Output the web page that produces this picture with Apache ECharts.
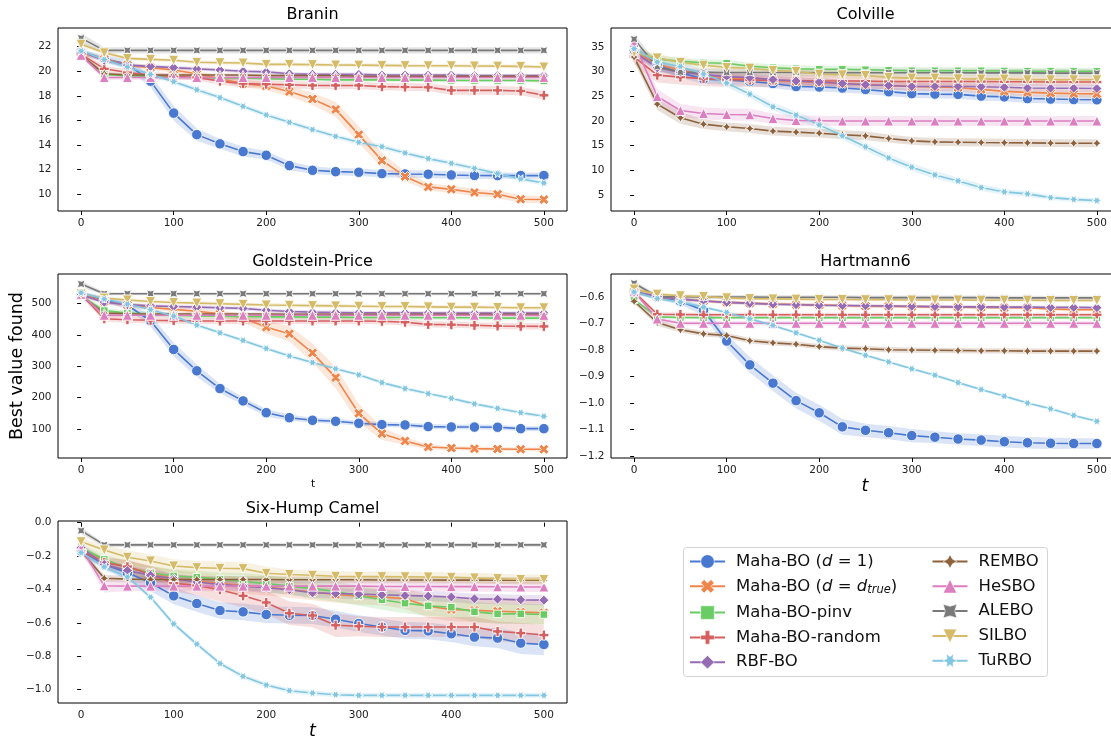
<!DOCTYPE html>
<html><head><meta charset="utf-8">
<script src="https://cdn.jsdelivr.net/npm/echarts@6/dist/echarts.min.js"></script>
<style>html,body{margin:0;padding:0;background:#fff}#c{width:1111px;height:738px}</style>
</head><body><div id="c"></div>
<script>
// ---------------- DATA ----------------
const T = [0,25,50,75,100,125,150,175,200,225,250,275,300,325,350,375,400,425,450,475,500];
const X_TICKS = [0,100,200,300,400,500];
const NAMES = ['Maha-BO (d = 1)','Maha-BO (d = d_true)','Maha-BO-pinv','Maha-BO-random','RBF-BO','REMBO','HeSBO','ALEBO','SILBO','TuRBO'];
const COLORS = ['#4878d0','#ee854a','#6acc64','#d65f5f','#956cb4','#8c613c','#dc7ec0','#797979','#d5bb67','#82c6e2'];

const BRANIN_Y = [10,12,14,16,18,20,22];
const COLVILLE_Y = [5,10,15,20,25,30,35];
const GP_Y = [100,200,300,400,500];
const HART_Y = [-1.2,-1.1,-1.0,-0.9,-0.8,-0.7,-0.6];
const CAMEL_Y = [-1.0,-0.8,-0.6,-0.4,-0.2,0.0];

const braninMean = [
 [21.6,21.0,20.6,19.2,16.6,14.85,14.1,13.47,13.17,12.33,11.95,11.84,11.79,11.68,11.65,11.63,11.57,11.53,11.52,11.52,11.52],
 [21.5,21.0,20.5,20.3,20.1,19.8,19.4,19.0,18.8,18.35,17.75,16.9,14.85,12.75,11.45,10.6,10.4,10.15,10.0,9.6,9.57],
 [21.3,19.75,19.65,19.6,19.55,19.5,19.45,19.45,19.4,19.35,19.35,19.3,19.3,19.3,19.28,19.28,19.26,19.25,19.25,19.25,19.22],
 [21.4,20.2,19.9,19.7,19.6,19.5,19.2,19.0,18.95,18.9,18.85,18.85,18.85,18.75,18.72,18.7,18.45,18.45,18.45,18.4,18.05],
 [21.6,20.9,20.5,20.4,20.3,20.2,20.1,20.0,19.95,19.8,19.75,19.75,19.75,19.7,19.7,19.7,19.7,19.65,19.65,19.65,19.65],
 [21.3,19.8,19.7,19.7,19.7,19.7,19.7,19.7,19.65,19.65,19.65,19.65,19.6,19.6,19.6,19.6,19.6,19.6,19.6,19.6,19.6],
 [21.3,19.5,19.5,19.5,19.5,19.5,19.5,19.5,19.5,19.5,19.5,19.5,19.5,19.5,19.5,19.5,19.5,19.5,19.5,19.5,19.5],
 [22.7,21.7,21.7,21.7,21.7,21.7,21.7,21.7,21.7,21.7,21.7,21.7,21.7,21.7,21.7,21.7,21.7,21.7,21.7,21.7,21.7],
 [22.2,21.5,21.05,20.97,20.9,20.73,20.7,20.67,20.56,20.56,20.54,20.51,20.5,20.48,20.46,20.45,20.45,20.43,20.42,20.4,20.35],
 [21.65,20.95,20.35,19.75,19.16,18.5,17.86,17.15,16.45,15.85,15.26,14.71,14.23,13.87,13.36,12.9,12.52,12.11,11.68,11.25,10.92]
];
const braninBand = [
 [0.2,0.3,0.35,0.5,0.6,0.5,0.4,0.4,0.35,0.35,0.3,0.3,0.3,0.3,0.3,0.3,0.3,0.3,0.25,0.25,0.25],
 [0.2,0.2,0.2,0.2,0.2,0.2,0.25,0.3,0.35,0.4,0.5,0.6,0.7,0.6,0.4,0.3,0.3,0.3,0.3,0.3,0.3],
 [0.2,0.15,0.15,0.15,0.15,0.15,0.15,0.15,0.15,0.15,0.15,0.15,0.15,0.15,0.15,0.15,0.15,0.15,0.15,0.15,0.15],
 [0.2,0.25,0.25,0.25,0.25,0.25,0.3,0.3,0.3,0.3,0.3,0.3,0.3,0.3,0.3,0.3,0.35,0.35,0.35,0.35,0.35],
 [0.2,0.15,0.15,0.15,0.15,0.15,0.15,0.15,0.15,0.15,0.15,0.15,0.15,0.15,0.15,0.15,0.15,0.15,0.15,0.15,0.15],
 [0.2,0.12,0.12,0.12,0.12,0.12,0.12,0.12,0.12,0.12,0.12,0.12,0.12,0.12,0.12,0.12,0.12,0.12,0.12,0.12,0.12],
 [0.2,0.2,0.2,0.2,0.2,0.2,0.2,0.2,0.2,0.2,0.2,0.2,0.2,0.2,0.2,0.2,0.2,0.2,0.2,0.2,0.2],
 [0.4,0.25,0.25,0.25,0.25,0.25,0.25,0.25,0.25,0.25,0.25,0.25,0.25,0.25,0.25,0.25,0.25,0.25,0.25,0.25,0.25],
 [0.2,0.15,0.15,0.15,0.15,0.15,0.15,0.15,0.15,0.15,0.15,0.15,0.15,0.15,0.15,0.15,0.15,0.15,0.15,0.15,0.15],
 [0.2,0.2,0.2,0.2,0.2,0.2,0.2,0.2,0.2,0.2,0.2,0.2,0.2,0.2,0.2,0.2,0.2,0.2,0.2,0.2,0.2]
];

const colvilleMean = [
 [34.4,31.3,29.8,28.5,28.3,28.0,27.6,27.0,26.9,26.7,26.4,25.95,25.55,25.45,25.4,25.05,24.9,24.55,24.45,24.35,24.3],
 [34.2,31.5,30.3,29.3,28.8,28.5,28.2,28.0,27.8,27.6,27.4,27.2,27.0,26.9,26.8,26.4,26.0,25.8,25.65,25.55,25.5],
 [34.0,32.6,32.1,31.8,31.7,31.1,30.8,30.6,30.5,30.5,30.4,30.3,30.2,30.2,30.2,30.2,30.15,30.1,30.1,30.1,30.1],
 [33.0,29.3,28.9,28.6,28.4,28.3,28.2,28.2,28.1,28.1,28.1,28.0,28.0,28.0,28.0,28.0,27.95,27.95,27.9,27.9,27.9],
 [34.0,30.8,29.9,29.4,29.0,28.8,28.4,28.1,27.9,27.6,27.35,27.2,27.0,27.0,27.0,26.95,26.85,26.7,26.65,26.65,26.6],
 [32.97,23.42,20.65,19.36,18.82,18.48,17.94,17.74,17.53,17.2,16.99,16.45,15.97,15.77,15.7,15.64,15.6,15.57,15.52,15.5,15.5],
 [35.9,24.98,22.14,21.53,21.32,21.26,20.5,20.1,20.05,20.0,20.0,20.0,20.0,20.0,20.0,20.0,20.0,20.0,20.0,20.0,20.0],
 [36.6,31.0,29.9,29.9,29.85,29.85,29.85,29.85,29.8,29.8,29.8,29.8,29.8,29.8,29.8,29.75,29.75,29.75,29.7,29.7,29.7],
 [33.9,32.8,31.9,31.3,30.85,30.7,30.25,30.05,29.5,29.37,29.23,28.85,28.7,28.7,28.56,28.5,28.5,28.36,28.36,28.36,28.36],
 [34.66,31.95,31.07,29.52,27.69,25.45,22.88,21.19,19.22,16.99,14.76,12.52,10.63,9.07,7.85,6.5,5.62,5.22,4.47,4.1,3.86]
];
const colvilleBand = [
 [1.0,1.0,1.0,1.0,0.9,0.9,0.9,0.9,0.9,0.9,0.9,0.9,0.9,0.9,0.9,0.9,0.9,0.9,0.9,0.9,0.9],
 [0.8,0.8,0.8,0.8,0.8,0.8,0.8,0.8,0.8,0.8,0.8,0.8,0.8,0.8,0.8,0.8,0.8,0.8,0.8,0.8,0.8],
 [0.7,0.7,0.7,0.7,0.7,0.7,0.7,0.7,0.7,0.7,0.7,0.7,0.7,0.7,0.7,0.7,0.7,0.7,0.7,0.7,0.7],
 [1.5,1.5,1.5,1.5,1.5,1.4,1.3,1.2,1.1,1.0,1.0,1.0,1.0,0.9,0.9,0.9,0.9,0.9,0.9,0.9,0.9],
 [0.8,0.8,0.8,0.8,0.8,0.8,0.8,0.8,0.8,0.8,0.8,0.8,0.8,0.8,0.8,0.8,0.8,0.8,0.8,0.8,0.8],
 [1.0,1.2,1.2,1.0,0.9,0.9,0.9,0.9,0.9,0.9,0.9,0.8,0.8,0.8,0.8,0.8,0.8,0.8,0.8,0.8,0.8],
 [1.0,1.5,1.3,1.2,1.2,1.2,1.0,1.0,1.0,1.0,1.0,1.0,1.0,1.0,1.0,1.0,1.0,1.0,1.0,1.0,1.0],
 [1.0,0.8,0.8,0.8,0.8,0.8,0.8,0.8,0.8,0.8,0.8,0.8,0.8,0.8,0.8,0.8,0.8,0.8,0.8,0.8,0.8],
 [0.8,0.8,0.8,0.8,0.8,0.8,0.8,0.8,0.8,0.8,0.8,0.8,0.8,0.8,0.8,0.8,0.8,0.8,0.8,0.8,0.8],
 [0.8,0.8,0.8,0.8,0.8,0.8,0.8,0.8,0.8,0.8,0.8,0.8,0.8,0.8,0.7,0.7,0.6,0.6,0.5,0.5,0.5]
];

const gpMean = [
 [530,512,495,445.6,354,285.6,229,189.6,152,136,127.7,124.5,118,113.9,112.8,107.5,106.4,106,105.5,101,101],
 [530,507,496,488,482,476,468,455,425,404,343,264,150,85,61.6,42.4,39,37,36,35,35],
 [525,478,470,466,463,461,460,459,458,458,457,457,456,456,456,455,455,455,454,454,454],
 [530,452,449,447,446,445,445,445,445,445,445,445,445,444,441,434,433,431,429,428,427.5],
 [528,505,497,493,491,489,487,485,479,475,473,472,471,471,471,470,470,470,470,470,470],
 [525,470,468,467,467,467,467,467,467,466,466,466,466,466,466,466,466,466,466,466,466],
 [530,463,463,463,463,463,463,463,463,463,463,463,463,463,463,463,463,463,463,463,462.7],
 [563,532,532,532,532,532,532,532,532,532,532,532,532,532,532,532,532,532,532,532,532],
 [532,518,512,507,504,502,500,498,496,495,494,493,492,491,491,490,489,489,488,487,487],
 [535,515,499,481,460.5,431.7,407,382.7,357,333,312,292,272.8,248,229,213,198,180,166,152,140.5]
];
const gpBand = [
 [8,10,12,18,22,20,15,12,12,10,8,8,8,8,8,8,8,8,8,8,8],
 [8,8,8,8,8,8,10,14,20,25,30,35,30,20,12,8,6,6,6,6,6],
 [8,8,8,8,8,8,8,8,8,8,8,8,8,8,8,8,8,8,8,8,8],
 [8,10,10,10,10,10,10,10,10,10,10,10,10,10,10,10,10,10,10,10,10],
 [6,6,6,6,6,6,6,6,6,6,6,6,6,6,6,6,6,6,6,6,6],
 [5,5,5,5,5,5,5,5,5,5,5,5,5,5,5,5,5,5,5,5,5],
 [6,6,6,6,6,6,6,6,6,6,6,6,6,6,6,6,6,6,6,6,6],
 [10,5,5,5,5,5,5,5,5,5,5,5,5,5,5,5,5,5,5,5,5],
 [6,6,6,6,6,6,6,6,6,6,6,6,6,6,6,6,6,6,6,6,6],
 [6,6,6,6,6,6,6,6,6,6,6,6,6,6,6,6,6,6,6,6,6]
];

const hartMean = [
 [-0.58,-0.598,-0.617,-0.65,-0.766,-0.856,-0.925,-0.991,-1.037,-1.09,-1.103,-1.112,-1.123,-1.129,-1.136,-1.14,-1.146,-1.15,-1.152,-1.153,-1.153],
 [-0.58,-0.6,-0.608,-0.615,-0.62,-0.623,-0.626,-0.628,-0.63,-0.632,-0.634,-0.635,-0.636,-0.637,-0.638,-0.639,-0.64,-0.64,-0.645,-0.648,-0.648],
 [-0.61,-0.675,-0.677,-0.678,-0.678,-0.678,-0.678,-0.678,-0.678,-0.678,-0.678,-0.678,-0.678,-0.678,-0.678,-0.678,-0.678,-0.678,-0.678,-0.678,-0.678],
 [-0.58,-0.665,-0.666,-0.667,-0.667,-0.667,-0.667,-0.667,-0.667,-0.667,-0.667,-0.667,-0.667,-0.667,-0.667,-0.667,-0.667,-0.667,-0.667,-0.667,-0.667],
 [-0.58,-0.598,-0.608,-0.615,-0.62,-0.624,-0.627,-0.629,-0.631,-0.632,-0.633,-0.634,-0.635,-0.636,-0.637,-0.637,-0.638,-0.638,-0.639,-0.639,-0.64],
 [-0.616,-0.696,-0.7235,-0.739,-0.745,-0.765,-0.773,-0.778,-0.787,-0.793,-0.795,-0.799,-0.8,-0.801,-0.802,-0.803,-0.803,-0.804,-0.804,-0.804,-0.804],
 [-0.58,-0.683,-0.699,-0.699,-0.699,-0.699,-0.699,-0.699,-0.699,-0.699,-0.699,-0.699,-0.699,-0.699,-0.699,-0.699,-0.699,-0.699,-0.699,-0.699,-0.699],
 [-0.548,-0.598,-0.599,-0.6,-0.6,-0.6,-0.601,-0.601,-0.601,-0.601,-0.602,-0.602,-0.602,-0.602,-0.602,-0.602,-0.603,-0.603,-0.603,-0.603,-0.603],
 [-0.57,-0.589,-0.595,-0.598,-0.603,-0.606,-0.607,-0.608,-0.609,-0.609,-0.61,-0.61,-0.611,-0.611,-0.611,-0.612,-0.612,-0.612,-0.613,-0.613,-0.613],
 [-0.581,-0.606,-0.619,-0.638,-0.658,-0.682,-0.707,-0.735,-0.763,-0.793,-0.82,-0.845,-0.871,-0.895,-0.923,-0.949,-0.974,-1.0,-1.022,-1.047,-1.069]
];
const hartBand = [
 [0.01,0.01,0.012,0.02,0.025,0.03,0.03,0.03,0.03,0.03,0.025,0.025,0.025,0.022,0.022,0.022,0.022,0.022,0.022,0.02,0.02],
 [0.008,0.006,0.006,0.006,0.006,0.006,0.006,0.006,0.006,0.006,0.006,0.006,0.006,0.006,0.006,0.006,0.006,0.006,0.006,0.006,0.006],
 [0.008,0.006,0.006,0.006,0.006,0.006,0.006,0.006,0.006,0.006,0.006,0.006,0.006,0.006,0.006,0.006,0.006,0.006,0.006,0.006,0.006],
 [0.008,0.008,0.008,0.008,0.008,0.008,0.008,0.008,0.008,0.008,0.008,0.008,0.008,0.008,0.008,0.008,0.008,0.008,0.008,0.008,0.008],
 [0.008,0.006,0.006,0.006,0.006,0.006,0.006,0.006,0.006,0.006,0.006,0.006,0.006,0.006,0.006,0.006,0.006,0.006,0.006,0.006,0.006],
 [0.01,0.012,0.01,0.01,0.01,0.01,0.01,0.01,0.01,0.01,0.01,0.01,0.01,0.01,0.01,0.01,0.01,0.01,0.01,0.01,0.01],
 [0.008,0.01,0.008,0.008,0.008,0.008,0.008,0.008,0.008,0.008,0.008,0.008,0.008,0.008,0.008,0.008,0.008,0.008,0.008,0.008,0.008],
 [0.01,0.008,0.008,0.008,0.008,0.008,0.008,0.008,0.008,0.008,0.008,0.008,0.008,0.008,0.008,0.008,0.008,0.008,0.008,0.008,0.008],
 [0.008,0.006,0.006,0.006,0.006,0.006,0.006,0.006,0.006,0.006,0.006,0.006,0.006,0.006,0.006,0.006,0.006,0.006,0.006,0.006,0.006],
 [0.006,0.006,0.006,0.006,0.006,0.006,0.006,0.006,0.006,0.006,0.006,0.006,0.006,0.006,0.006,0.006,0.006,0.006,0.006,0.006,0.006]
];

const camelMean = [
 [-0.17,-0.25,-0.3,-0.36,-0.438,-0.484,-0.526,-0.534,-0.55,-0.554,-0.556,-0.578,-0.604,-0.625,-0.645,-0.648,-0.665,-0.685,-0.691,-0.721,-0.729],
 [-0.15,-0.235,-0.265,-0.3,-0.335,-0.35,-0.365,-0.375,-0.385,-0.4,-0.415,-0.43,-0.44,-0.445,-0.455,-0.5,-0.52,-0.525,-0.53,-0.535,-0.54],
 [-0.15,-0.22,-0.27,-0.3,-0.319,-0.327,-0.338,-0.352,-0.365,-0.38,-0.395,-0.412,-0.438,-0.462,-0.482,-0.498,-0.506,-0.534,-0.546,-0.546,-0.55],
 [-0.17,-0.239,-0.263,-0.31,-0.362,-0.376,-0.402,-0.438,-0.478,-0.542,-0.556,-0.614,-0.62,-0.625,-0.625,-0.625,-0.625,-0.625,-0.651,-0.661,-0.673],
 [-0.15,-0.25,-0.287,-0.315,-0.335,-0.355,-0.37,-0.38,-0.39,-0.402,-0.42,-0.424,-0.428,-0.432,-0.436,-0.44,-0.445,-0.456,-0.458,-0.462,-0.464],
 [-0.17,-0.333,-0.338,-0.34,-0.34,-0.34,-0.34,-0.34,-0.34,-0.342,-0.342,-0.342,-0.342,-0.343,-0.343,-0.343,-0.344,-0.344,-0.345,-0.345,-0.345],
 [-0.15,-0.378,-0.38,-0.38,-0.38,-0.38,-0.38,-0.38,-0.38,-0.38,-0.38,-0.38,-0.38,-0.382,-0.382,-0.382,-0.383,-0.383,-0.384,-0.385,-0.385],
 [-0.048,-0.133,-0.133,-0.133,-0.133,-0.133,-0.133,-0.133,-0.133,-0.133,-0.133,-0.133,-0.133,-0.133,-0.133,-0.133,-0.133,-0.133,-0.133,-0.133,-0.133],
 [-0.114,-0.163,-0.207,-0.229,-0.259,-0.269,-0.273,-0.275,-0.303,-0.31,-0.315,-0.321,-0.322,-0.323,-0.324,-0.325,-0.327,-0.331,-0.335,-0.34,-0.34],
 [-0.179,-0.265,-0.325,-0.446,-0.606,-0.727,-0.843,-0.92,-0.972,-1.006,-1.02,-1.03,-1.034,-1.034,-1.034,-1.034,-1.034,-1.034,-1.034,-1.034,-1.034]
];
const camelBand = [
 [0.02,0.03,0.04,0.05,0.05,0.05,0.05,0.05,0.05,0.05,0.05,0.05,0.05,0.05,0.05,0.05,0.05,0.055,0.06,0.065,0.065],
 [0.02,0.03,0.04,0.04,0.05,0.05,0.05,0.05,0.05,0.05,0.05,0.05,0.05,0.05,0.06,0.07,0.07,0.07,0.07,0.07,0.07],
 [0.02,0.03,0.04,0.04,0.04,0.04,0.04,0.05,0.05,0.05,0.06,0.06,0.06,0.06,0.06,0.06,0.06,0.06,0.06,0.06,0.06],
 [0.02,0.03,0.04,0.05,0.05,0.06,0.07,0.07,0.07,0.07,0.07,0.07,0.06,0.06,0.06,0.06,0.06,0.06,0.06,0.06,0.06],
 [0.02,0.03,0.03,0.03,0.03,0.03,0.03,0.03,0.03,0.03,0.03,0.03,0.03,0.03,0.03,0.03,0.03,0.03,0.03,0.03,0.03],
 [0.02,0.02,0.02,0.02,0.02,0.02,0.02,0.02,0.02,0.02,0.02,0.02,0.02,0.02,0.02,0.02,0.02,0.02,0.02,0.02,0.02],
 [0.02,0.04,0.03,0.03,0.03,0.03,0.03,0.03,0.03,0.03,0.03,0.03,0.03,0.03,0.03,0.03,0.03,0.03,0.03,0.03,0.03],
 [0.02,0.012,0.012,0.012,0.012,0.012,0.012,0.012,0.012,0.012,0.012,0.012,0.012,0.012,0.012,0.012,0.012,0.012,0.012,0.012,0.012],
 [0.02,0.03,0.04,0.04,0.04,0.04,0.04,0.04,0.04,0.03,0.03,0.03,0.03,0.03,0.03,0.03,0.03,0.03,0.03,0.03,0.03],
 [0.015,0.015,0.015,0.015,0.015,0.015,0.015,0.015,0.015,0.015,0.015,0.015,0.015,0.015,0.015,0.015,0.015,0.015,0.015,0.015,0.015]
];

// ---------------- STYLE / LAYOUT ----------------
const FONT = 'DejaVu Sans';
const SYMBOLS = [
 {s:'circle', size:10.5},
 {s:'path://M-1,-2L0,-1L1,-2L2,-1L1,0L2,1L1,2L0,1L-1,2L-2,1L-1,0L-2,-1Z', size:10},
 {s:'rect', size:7.5},
 {s:'path://M-1,-3L1,-3L1,-1L3,-1L3,1L1,1L1,3L-1,3L-1,1L-3,1L-3,-1L-1,-1Z', size:10},
 {s:'diamond', size:10},
 {s:'path://M0,-100L35.36,-35.36L100,0L35.36,35.36L0,100L-35.36,35.36L-100,0L-35.36,-35.36Z', size:9},
 {s:'triangle', size:10},
 {s:'path://M70.71,-70.71L0,-50L-70.71,-70.71L-50,0L-70.71,70.71L0,50L70.71,70.71L50,0Z', size:7.5},
 {s:'path://M-1,-1L1,-1L0,1Z', size:10},
 {s:'path://M100,0L43.3,-25L50,-86.6L0,-50L-50,-86.6L-43.3,-25L-100,0L-43.3,25L-50,86.6L0,50L50,86.6L43.3,25Z', size:9.5}
];
const minusFmt = v => (v < 0 ? '\u2212' : '') + Math.abs(v).toFixed(1);
const intFmt = v => String(Math.round(v));

const PANELS = [
 {title:'Branin', mean:braninMean, band:braninBand, yt:BRANIN_Y, ymin:8.64, ymax:23.52, fmt:intFmt, g:{left:58, top:28, width:509, height:183}, ty:15.5},
 {title:'Colville', mean:colvilleMean, band:colvilleBand, yt:COLVILLE_Y, ymin:1.75, ymax:38.86, fmt:intFmt, g:{left:611, top:28, width:509, height:183}, ty:15.5},
 {title:'Goldstein-Price', mean:gpMean, band:gpBand, yt:GP_Y, ymin:7.2, ymax:594.9, fmt:intFmt, g:{left:58, top:274, width:509, height:184}, ty:262.5},
 {title:'Hartmann6', mean:hartMean, band:hartBand, yt:HART_Y, ymin:-1.2076, ymax:-0.513, fmt:minusFmt, g:{left:611, top:274, width:509, height:184}, ty:262.5},
 {title:'Six-Hump Camel', mean:camelMean, band:camelBand, yt:CAMEL_Y, ymin:-1.0797, ymax:0.01, fmt:minusFmt, g:{left:58, top:521, width:509, height:182}, ty:509.5}
];

const grids = [], xAxes = [], yAxes = [], series = [], titles = [];
PANELS.forEach((p, gi) => {
  grids.push(Object.assign({show:true, borderColor:'#000', borderWidth:1, backgroundColor:'#fff', containLabel:false, outerBoundsMode:'none'}, p.g));
  titles.push({text:p.title, left:p.g.left + 254.5, top:p.ty - 9, textAlign:'center', padding:0,
    textStyle:{fontFamily:FONT, fontSize:16, fontWeight:'normal', color:'#000'}});
  xAxes.push({type:'value', gridIndex:gi, min:-25, max:525,
    axisLine:{show:false}, splitLine:{show:false},
    axisTick:{show:true, length:4, customValues:X_TICKS, lineStyle:{color:'#000', width:1}},
    axisLabel:{customValues:X_TICKS, fontFamily:FONT, fontSize:10.5, color:'#222', margin:6.5, formatter:intFmt}});
  yAxes.push({type:'value', gridIndex:gi, min:p.ymin, max:p.ymax,
    axisLine:{show:false}, splitLine:{show:false},
    axisTick:{show:true, length:4, customValues:p.yt, lineStyle:{color:'#000', width:1}},
    axisLabel:{customValues:p.yt, fontFamily:FONT, fontSize:10.5, color:'#222', margin:6.5, formatter:p.fmt}});
  // confidence bands
  series.push({type:'custom', xAxisIndex:gi, yAxisIndex:gi, silent:true, z:1, clip:true,
    data: NAMES.map((n, i) => [T[0], p.mean[i][0]]),
    encode:{x:0, y:1},
    renderItem: (params, api) => {
      const i = params.dataIndex, m = p.mean[i], b = p.band[i];
      const up = T.map((t, k) => api.coord([t, m[k] + b[k]]));
      const lo = T.map((t, k) => api.coord([t, m[k] - b[k]])).reverse();
      return {type:'polygon', shape:{points: up.concat(lo)}, style:{fill:COLORS[i], opacity:0.2, stroke:null}};
    }});
  NAMES.forEach((name, i) => {
    series.push({type:'line', name, xAxisIndex:gi, yAxisIndex:gi, z:2,
      data: T.map((t, k) => [t, p.mean[i][k]]),
      symbol: SYMBOLS[i].s, symbolSize: SYMBOLS[i].size, symbolKeepAspect:true, showAllSymbol:true,
      lineStyle:{color:COLORS[i], width:1.6},
      itemStyle:{color:COLORS[i], borderColor:'#fff', borderWidth:0.9},
      emphasis:{disabled:true}});
  });
});

const legendFmt = name => {
  if (name === 'Maha-BO (d = 1)') return '{n|Maha-BO (}{i|d}{n| = 1)}';
  if (name === 'Maha-BO (d = d_true)') return '{n|Maha-BO (}{i|d}{n| = }{i|d}{s|true}{n|)}';
  return '{n|' + name + '}';
};
const legendBase = {
  orient:'vertical', itemWidth:35, itemHeight:17, itemGap:7.8, selectedMode:false, z:10, padding:0,
  formatter: legendFmt,
  itemStyle:{borderWidth:0.6, borderColor:'#fff'},
  textStyle:{fontFamily:FONT, fontSize:16.5, color:'#000', padding:[0,0,0,6],
    rich:{
      n:{fontFamily:FONT, fontSize:16.5, color:'#111', lineHeight:20},
      i:{fontFamily:FONT, fontSize:16.5, color:'#111', fontStyle:'italic', lineHeight:20},
      s:{fontFamily:FONT, fontSize:11.5, color:'#111', fontStyle:'italic', lineHeight:10, verticalAlign:'bottom'}
    }}
};

const option = {
  animation:false,
  backgroundColor:'#fff',
  textStyle:{fontFamily:FONT},
  title: titles,
  grid: grids, xAxis: xAxes, yAxis: yAxes, series,
  legend: [
    Object.assign({}, legendBase, {data:NAMES.slice(0,5), left:689, top:553}),
    Object.assign({}, legendBase, {data:NAMES.slice(5), left:931.5, top:553})
  ],
  graphic: [
    {type:'rect', z:5, shape:{x:683.5, y:547.5, width:364, height:129, r:3}, style:{fill:'rgba(255,255,255,0.8)', stroke:'#d4d4d4', lineWidth:1}},
    {type:'text', z:5, x:17.5, y:366, rotation:Math.PI/2, style:{text:'Best value found', fontFamily:FONT, fontSize:17.5, fill:'#000', textAlign:'center', textVerticalAlign:'middle'}},
    {type:'text', z:5, x:313, y:484.5, style:{text:'t', fontFamily:FONT, fontSize:10.5, fill:'#000', textAlign:'center', textVerticalAlign:'middle'}},
    {type:'text', z:5, x:865, y:486, style:{text:'t', fontFamily:FONT, fontSize:17.5, fontStyle:'italic', fill:'#000', textAlign:'center', textVerticalAlign:'middle'}},
    {type:'text', z:5, x:312.5, y:731, style:{text:'t', fontFamily:FONT, fontSize:17.5, fontStyle:'italic', fill:'#000', textAlign:'center', textVerticalAlign:'middle'}}
  ]
};
const chart = echarts.init(document.getElementById('c'), null, {renderer:'canvas'});
chart.setOption(option);
</script></body></html>
